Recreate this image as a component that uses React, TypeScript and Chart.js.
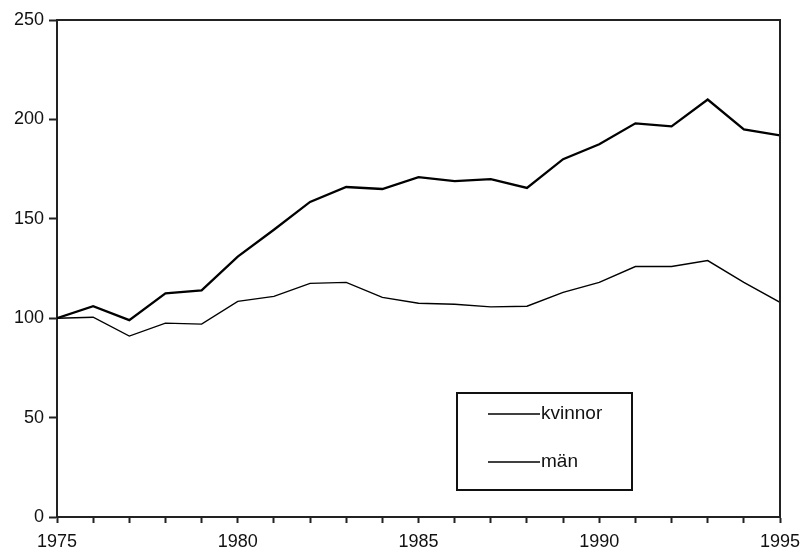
import React, { useEffect, useRef } from "react";
import { Chart, registerables } from "chart.js";

Chart.register(...registerables);

const years = [1975, 1976, 1977, 1978, 1979, 1980, 1981, 1982, 1983, 1984, 1985, 1986, 1987, 1988, 1989, 1990, 1991, 1992, 1993, 1994, 1995];
const kvinnor = [100, 106, 99, 112.5, 114, 131, 144.5, 158.5, 166, 165, 171, 169, 170, 165.5, 180, 187.5, 198, 196.5, 210, 195, 192];
const man = [100, 100.5, 91, 97.5, 97, 108.5, 111, 117.5, 118, 110.5, 107.5, 107, 105.7, 106, 113, 118, 126, 126, 129, 118, 108];
const seriesLabels = ["kvinnor", "män"];
const yTicks = [0, 50, 100, 150, 200, 250];
const xLabelYears = [1975, 1980, 1985, 1990, 1995];

const FONT = "'Liberation Sans', Arial, sans-serif";

const frameAndLegend = {
  id: "frameAndLegend",
  afterDatasetsDraw(chart: any) {
    const { ctx, chartArea } = chart;
    ctx.save();
    ctx.strokeStyle = "#222";
    ctx.lineWidth = 2;
    ctx.beginPath();
    ctx.moveTo(chartArea.left, chartArea.top);
    ctx.lineTo(chartArea.right, chartArea.top);
    ctx.lineTo(chartArea.right, chartArea.bottom);
    ctx.stroke();

    const bx = 457, by = 393, bw = 175, bh = 97;
    ctx.lineWidth = 2;
    ctx.strokeStyle = "#111";
    ctx.strokeRect(bx, by, bw, bh);
    const rows = [414, 462];
    chart.data.datasets.forEach((ds: any, i: number) => {
      const y = rows[i];
      ctx.strokeStyle = "#000";
      ctx.lineWidth = 1.6;
      ctx.beginPath();
      ctx.moveTo(488, y);
      ctx.lineTo(540, y);
      ctx.stroke();
      ctx.fillStyle = "#111";
      ctx.font = `19px ${FONT}`;
      ctx.textBaseline = "middle";
      ctx.textAlign = "left";
      ctx.fillText(ds.label, 541, y);
    });
    ctx.restore();
  },
};

export default function App() {
  const ref = useRef<HTMLCanvasElement>(null);
  useEffect(() => {
    document.body.style.margin = "0";
    const chart = new Chart(ref.current!, {
      type: "line",
      data: {
        labels: years,
        datasets: [
          {
            label: seriesLabels[0],
            data: years.map((y, i) => ({ x: y, y: kvinnor[i] })),
            borderColor: "#000",
            borderWidth: 2.3,
            pointRadius: 0,
            tension: 0,
          },
          {
            label: seriesLabels[1],
            data: years.map((y, i) => ({ x: y, y: man[i] })),
            borderColor: "#000",
            borderWidth: 1.4,
            pointRadius: 0,
            tension: 0,
          },
        ],
      },
      options: {
        animation: false,
        responsive: false,
        layout: { padding: { top: 20, right: 22, left: 0, bottom: 0 } },
        plugins: { legend: { display: false }, tooltip: { enabled: false } },
        scales: {
          x: {
            type: "linear",
            min: 1975,
            max: 1995,
            afterFit: (s: any) => { s.height = 34; s.paddingLeft = 0; s.paddingRight = 0; },
            afterBuildTicks: (s: any) => { s.ticks = years.map((v) => ({ value: v })); },
            ticks: {
              autoSkip: false,
              maxRotation: 0,
              padding: 8,
              color: "#111",
              font: { family: FONT, size: 18 },
              callback: (v: any) => (xLabelYears.includes(Number(v)) ? String(v) : ""),
            },
            grid: { drawOnChartArea: false, drawTicks: true, tickLength: 6, color: "#222", tickWidth: 2 },
            border: { display: true, color: "#222", width: 2 },
          },
          y: {
            min: 0,
            max: 250,
            afterFit: (s: any) => { s.width = 57; s.paddingTop = 0; s.paddingBottom = 0; },
            afterBuildTicks: (s: any) => { s.ticks = yTicks.map((v) => ({ value: v })); },
            ticks: {
              padding: 5,
              color: "#111",
              font: { family: FONT, size: 18 },
            },
            grid: { drawOnChartArea: false, drawTicks: true, tickLength: 8, color: "#222", tickWidth: 2 },
            border: { display: true, color: "#222", width: 2 },
          },
        },
      },
      plugins: [frameAndLegend],
    });
    return () => chart.destroy();
  }, []);
  return (
    <div style={{ width: 802, height: 551 }}>
      <canvas ref={ref} width={802} height={551} />
    </div>
  );
}
